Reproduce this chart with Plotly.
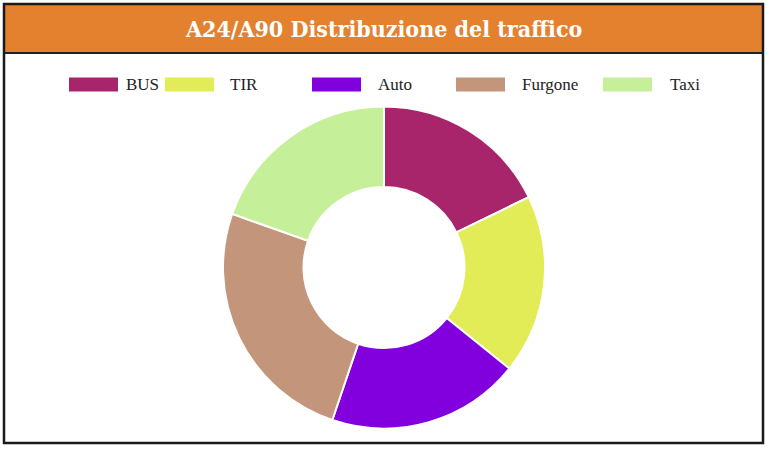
"""
Donut chart: A24/A90 traffic distribution by vehicle type
"""

import plotly.graph_objects as go

# data
categories = ["BUS", "TIR", "Auto", "Furgone", "Taxi"]
traffic = [178, 180, 194, 252, 196]
colors = ["#A8256B", "#E1EC56", "#8200DE", "#C3967B", "#C6EF9A"]

title_text = "A24/A90 Distribuzione del traffico"

W, H = 767, 450


def px_x(x):
    return x / W


def px_y(y):
    return 1 - y / H


fig = go.Figure(
    go.Pie(
        labels=categories,
        values=traffic,
        marker=dict(colors=colors, line=dict(color="white", width=2)),
        hole=0.5,
        sort=False,
        direction="clockwise",
        rotation=0,
        textinfo="none",
        hoverinfo="label+value",
        showlegend=False,
        domain=dict(x=[px_x(223), px_x(545)], y=[px_y(428.5), px_y(106.5)]),
    )
)

shapes = [
    # title bar
    dict(type="rect", xref="paper", yref="paper",
         x0=px_x(4), x1=px_x(763), y0=px_y(53), y1=px_y(4),
         fillcolor="#E4812F", line=dict(color="#222222", width=2), layer="below"),
    # outer frame
    dict(type="rect", xref="paper", yref="paper",
         x0=px_x(4), x1=px_x(763), y0=px_y(443), y1=px_y(4),
         fillcolor="rgba(0,0,0,0)", line=dict(color="#1a1a1a", width=2.5)),
]

annotations = [
    dict(text="<b>" + title_text + "</b>", x=px_x(383.5), y=px_y(29),
         xref="paper", yref="paper",
         showarrow=False, xanchor="center", yanchor="middle",
         font=dict(family="DejaVu Serif Condensed, DejaVu Serif", size=23, color="white")),
]

# hand-placed legend, mimicking the original boxes
box_left = [69, 165, 312, 456, 603]
text_left = [124, 228, 376, 520, 668]
for name, col, bx, tx in zip(categories, colors, box_left, text_left):
    shapes.append(dict(type="rect", xref="paper", yref="paper",
                       x0=px_x(bx), x1=px_x(bx + 49), y0=px_y(91.5), y1=px_y(77.5),
                       fillcolor=col, line=dict(width=0)))
    annotations.append(dict(text=name, x=px_x(tx), y=px_y(84.5), xref="paper", yref="paper",
                            showarrow=False, xanchor="left", yanchor="middle",
                            font=dict(family="Liberation Serif", size=17, color="#222222")))

fig.update_layout(
    width=W,
    height=H,
    margin=dict(l=0, r=0, t=0, b=0),
    paper_bgcolor="white",
    plot_bgcolor="white",
    shapes=shapes,
    annotations=annotations,
)

# drop the default page margin so the figure sits at the window corner
fig.write_html(
    "out.html",
    config={"displayModeBar": False},
    post_script="document.body.style.margin='0';",
)
